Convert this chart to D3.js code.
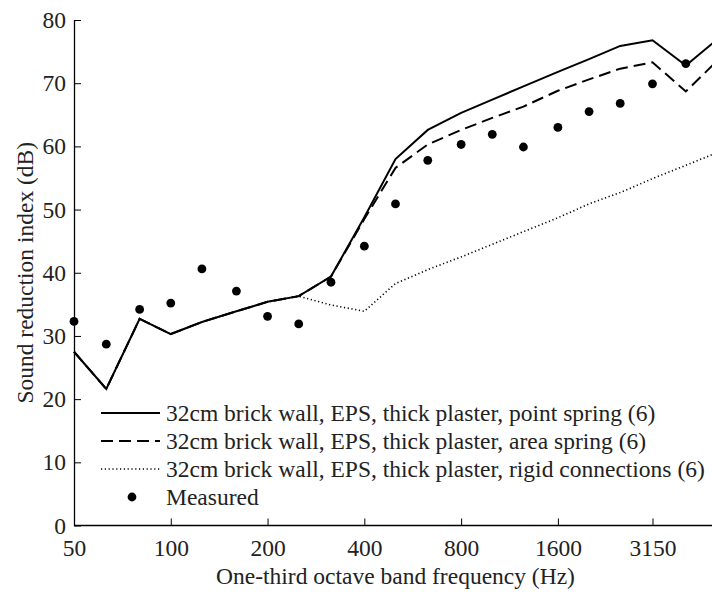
<!DOCTYPE html>
<html>
<head>
<meta charset="utf-8">
<script src="https://cdn.jsdelivr.net/npm/d3@7"></script>
<style>
  body { margin: 0; background: #fff; }
  svg { display: block; font-family: 'Liberation Serif', 'Times New Roman', serif; }
</style>
</head>
<body>
<svg id="chart" width="712" height="592"></svg>
<script>
// one-third octave band centre frequencies (Hz)
var freqs = [50, 63, 80, 100, 125, 160, 200, 250, 315, 400, 500, 630, 800, 1000, 1250, 1600, 2000, 2500, 3150, 4000, 5000];
var pointSpring = [27.5, 21.6, 32.7, 30.3, 32.2, 33.9, 35.4, 36.3, 39.4, 48.8, 58.0, 62.6, 65.3, 67.4, 69.5, 71.8, 73.8, 75.9, 76.8, 72.8, 76.9];
var areaSpring = [27.5, 21.6, 32.7, 30.3, 32.2, 33.9, 35.4, 36.3, 39.4, 48.5, 56.6, 60.3, 62.6, 64.5, 66.3, 68.8, 70.6, 72.3, 73.3, 68.7, 73.5];
var rigidConn = [27.5, 21.6, 32.7, 30.3, 32.2, 33.9, 35.4, 36.3, 34.9, 33.9, 38.3, 40.5, 42.5, 44.5, 46.5, 48.7, 50.9, 52.7, 54.9, 57.0, 59.0];
// measured values, 50 Hz .. 4000 Hz
var measured = [32.3, 28.7, 34.2, 35.2, 40.6, 37.1, 33.1, 31.9, 38.5, 44.2, 50.9, 57.8, 60.3, 61.9, 59.9, 63.0, 65.5, 66.8, 69.9, 73.1];

var xTicks = [50, 100, 200, 400, 800, 1600, 3150];
var yTicks = [0, 10, 20, 30, 40, 50, 60, 70, 80];

var legendLabels = [
  '32cm brick wall, EPS, thick plaster, point spring (6)',
  '32cm brick wall, EPS, thick plaster, area spring (6)',
  '32cm brick wall, EPS, thick plaster, rigid connections (6)',
  'Measured'
];

var svg = d3.select('#chart');
var plotLeft = 74, plotTop = 20, plotBottom = 525.5, plotRight = 717;
var fontSize = '23.5px';

var x = d3.scaleLog().domain([50, 5000]).range([plotLeft, plotRight]);
var y = d3.scaleLinear().domain([0, 80]).range([plotBottom, plotTop]);

var series = [
  { values: pointSpring, dash: null, width: 2 },
  { values: areaSpring, dash: '12,6', width: 2 },
  { values: rigidConn, dash: '1.2,2.6', width: 1.6 }
];

var line = d3.line()
  .x(function(d, i) { return x(freqs[i]); })
  .y(function(d) { return y(d); });

// draw from back to front so the solid line sits on top
svg.selectAll('.series')
  .data(series.slice().reverse())
  .enter()
  .append('path')
  .classed('series', true)
  .attr('d', function(s) { return line(s.values); })
  .attr('fill', 'none')
  .attr('stroke', '#000')
  .attr('stroke-width', function(s) { return s.width; })
  .attr('stroke-dasharray', function(s) { return s.dash; });

svg.selectAll('.measured')
  .data(measured)
  .enter()
  .append('circle')
  .classed('measured', true)
  .attr('cx', function(d, i) { return x(freqs[i]); })
  .attr('cy', function(d) { return y(d); })
  .attr('r', 4.4)
  .attr('fill', '#000');

// axes
var xAxis = d3.axisBottom(x)
  .tickValues(xTicks)
  .tickFormat(d3.format('d'))
  .tickSizeInner(-7)
  .tickSizeOuter(0)
  .tickPadding(14);
var gx = svg.append('g')
  .attr('transform', 'translate(0,' + plotBottom + ')')
  .call(xAxis);

var yAxis = d3.axisLeft(y)
  .tickValues(yTicks)
  .tickSizeInner(-7)
  .tickSizeOuter(0)
  .tickPadding(8);
var gy = svg.append('g')
  .attr('transform', 'translate(' + plotLeft + ',0)')
  .call(yAxis);

[gx, gy].forEach(function(g) {
  g.selectAll('.domain').attr('stroke', '#000').attr('stroke-width', 1.3);
  g.selectAll('.tick line').attr('stroke', '#000').attr('stroke-width', 1);
  g.selectAll('.tick text')
    .attr('fill', '#222')
    .style('font-family', "'Liberation Serif', serif")
    .style('font-size', fontSize);
});
gx.select('.domain').attr('d', 'M' + plotLeft + ',0H712');

svg.append('text')
  .attr('x', (plotLeft + plotRight) / 2)
  .attr('y', 584)
  .attr('text-anchor', 'middle')
  .attr('fill', '#222')
  .style('font-size', fontSize)
  .text('One-third octave band frequency (Hz)');

svg.append('text')
  .attr('transform', 'translate(33,' + (plotTop + plotBottom) / 2 + ') rotate(-90)')
  .attr('text-anchor', 'middle')
  .attr('fill', '#222')
  .style('font-size', fontSize)
  .text('Sound reduction index (dB)');

// legend
var legend = svg.append('g').attr('transform', 'translate(101,413)');
var rows = legend.selectAll('.legend-row')
  .data(legendLabels)
  .enter()
  .append('g')
  .classed('legend-row', true)
  .attr('transform', function(d, i) { return 'translate(0,' + [0, 28, 56, 84][i] + ')'; });

rows.filter(function(d, i) { return i < 3; })
  .append('line')
  .attr('x1', 0)
  .attr('x2', 59)
  .attr('y1', 0)
  .attr('y2', 0)
  .attr('stroke', '#000')
  .attr('stroke-width', function(d, i) { return series[i].width; })
  .attr('stroke-dasharray', function(d, i) { return series[i].dash; });

rows.filter(function(d, i) { return i === 3; })
  .append('circle')
  .attr('cx', 31)
  .attr('cy', 0)
  .attr('r', 4.4)
  .attr('fill', '#000');

rows.append('text')
  .attr('x', 65)
  .attr('y', 8)
  .attr('fill', '#222')
  .style('font-size', fontSize)
  .text(function(d) { return d; });
</script>
</body>
</html>
